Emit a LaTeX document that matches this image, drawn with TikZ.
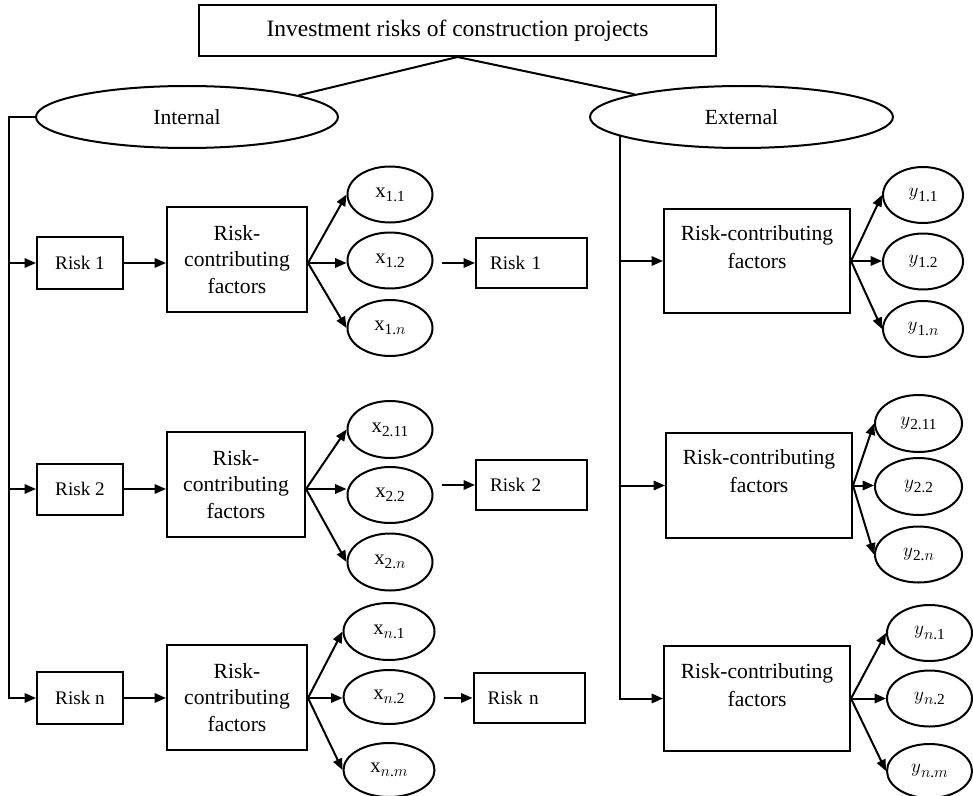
\documentclass[tikz,border=0pt]{standalone}
\usepackage{fontspec}
\setmainfont{Liberation Serif}
\usetikzlibrary{arrows.meta,shapes.geometric}
\newcommand{\sbx}[1]{\raisebox{-0.45ex}{\fontsize{11.5}{12}\selectfont #1}}
\begin{document}
\begin{tikzpicture}[x=0.75pt,y=-0.75pt,line width=1.5pt,
  box/.style args={#1/#2}{draw,rectangle,minimum width=#1*0.75pt,minimum height=#2*0.75pt,inner sep=0pt},
  oval/.style args={#1/#2}{draw,ellipse,minimum width=#1*0.75pt,minimum height=#2*0.75pt,inner sep=0pt},
  arr/.style={-{Triangle[length=8.5pt,width=7pt]}},
  titlefont/.style={font=\fontsize{17.6}{21}\selectfont},
  bigfont/.style={font=\fontsize{16.2}{20}\selectfont},
  rightfont/.style={font=\fontsize{16.2}{21}\selectfont},
  riskfont/.style={font=\fontsize{14.4}{17}\selectfont},
  ovfont/.style={font=\fontsize{15.5}{18}\selectfont},
  riskb/.style={box=111/50,riskfont,align=left,text width=83*0.75pt,inner xsep=14*0.75pt}
]
\useasboundingbox (0,0) rectangle (973,795);
\fill[white] (0,0) rectangle (973,795);

% top
\node[box=517/51,titlefont] (title) at (457.5,30.5) {Investment risks of construction projects};
\node[oval=302/62,bigfont] (internal) at (187,117) {Internal};
\node[oval=303/62,bigfont] (external) at (741.5,117) {External};
\draw (title.south) -- (internal.11);
\draw (title.south) -- (external.168);

% left column risks
\coordinate (Lx) at (9,0);
\node[box=86/52,riskfont] (risk1) at (80,263) {Risk 1};
\node[box=86/51,riskfont] (risk2) at (80,489) {Risk 2};
\node[box=86/52,riskfont] (riskn) at (80,698) {Risk n};
\draw[arr] (internal.west) -- (internal.west -| Lx) |- (riskn.west);
\draw[arr] (risk1.west -| Lx) -- (risk1.west);
\draw[arr] (risk2.west -| Lx) -- (risk2.west);

% left RCF boxes
\node[box=140/105,bigfont,align=center] (rcf1) at (237,259.5) {Risk-\\contributing\\factors};
\node[box=138/105,bigfont,align=center] (rcf2) at (236,484.5) {Risk-\\contributing\\factors};
\node[box=140/105,bigfont,align=center] (rcfn) at (237,697.5) {Risk-\\contributing\\factors};
\draw[arr] (risk1.east) -- (risk1.east -| rcf1.west);
\draw[arr] (risk2.east) -- (risk2.east -| rcf2.west);
\draw[arr] (riskn.east) -- (riskn.east -| rcfn.west);

% x ellipses
\node[oval=85/56,ovfont] (x11) at (390,194.5) {x\sbx{1.1}};
\node[oval=85/56,ovfont] (x12) at (390,260.5) {x\sbx{1.2}};
\node[oval=85/56,ovfont] (x1n) at (390,328) {x\sbx{1.$n$}};
\node[oval=85/57,ovfont] (x21) at (390,429.5) {x\sbx{2.11}};
\node[oval=85/56,ovfont] (x22) at (390,495) {x\sbx{2.2}};
\node[oval=85/57,ovfont] (x2n) at (390,562) {x\sbx{2.$n$}};
\node[oval=91/57,ovfont] (xn1) at (389,631.5) {x\sbx{$n$.1}};
\node[oval=91/54,ovfont] (xn2) at (389,697) {x\sbx{$n$.2}};
\node[oval=91/54,ovfont] (xnm) at (389,770) {x\sbx{$n$.$m$}};

\coordinate (o1) at (rcf1.east |- risk1.east);
\coordinate (o2) at (rcf2.east |- risk2.east);
\coordinate (o3) at (rcfn.east |- riskn.east);
\draw[arr] (o1) -- (x11.west);
\draw[arr] (o1) -- (o1 -| x12.west);
\draw[arr] (o1) -- (x1n.west);
\draw[arr] (o2) -- (x21.west);
\draw[arr] (o2) -- (o2 -| x22.west);
\draw[arr] (o2) -- (x2n.west);
\draw[arr] (o3) -- (xn1.west);
\draw[arr] (o3) -- (o3 -| xn2.west);
\draw[arr] (o3) -- (xnm.west);

% second risk boxes
\node[riskb] (r1b) at (531.5,263) {Risk 1};
\node[riskb] (r2b) at (531.5,485) {Risk 2};
\node[riskb] (rnb) at (529,698) {Risk n};
\draw[arr,shorten <=6pt] (r1b.west -| x12.east) -- (r1b.west);
\draw[arr,shorten <=6pt] (r2b.west -| x22.east) -- (r2b.west);
\draw[arr,shorten <=6pt] (rnb.west -| xn2.east) -- (rnb.west);

% right RCF boxes
\node[box=186/104,rightfont,align=center] (rcfR1) at (757,261) {Risk-contributing\\factors\\~};
\node[box=186/105,rightfont,align=center] (rcfR2) at (759,485.5) {Risk-contributing\\factors\\~};
\node[box=186/105,rightfont,align=center] (rcfRn) at (757,698.5) {Risk-contributing\\factors\\~};
\draw[arr] (external.189) |- (rcfRn.west);
\draw[arr] (rcfR1.west -| external.189) -- (rcfR1.west);
\draw[arr] (rcfR2.west -| external.189) -- (rcfR2.west);

% y ellipses
\node[oval=80/56,ovfont] (y11) at (923,195) {$y$\sbx{1.1}};
\node[oval=80/56,ovfont] (y12) at (923,261.5) {$y$\sbx{1.2}};
\node[oval=80/56,ovfont] (y1n) at (923,329) {$y$\sbx{1.$n$}};
\node[oval=87/57,ovfont] (y21) at (918.5,423.5) {$y$\sbx{2.11}};
\node[oval=87/57,ovfont] (y22) at (918.5,486.5) {$y$\sbx{2.2}};
\node[oval=87/56,ovfont] (y2n) at (918.5,554.5) {$y$\sbx{2.$n$}};
\node[oval=85/56,ovfont] (yn1) at (929.5,633) {$y$\sbx{$n$.1}};
\node[oval=85/56,ovfont] (yn2) at (929.5,698.5) {$y$\sbx{$n$.2}};
\node[oval=85/54,ovfont] (ynm) at (929.5,771) {$y$\sbx{$n$.$m$}};

\draw[arr] (rcfR1.east) -- (y11.west);
\draw[arr] (rcfR1.east) -- (rcfR1.east -| y12.west);
\draw[arr] (rcfR1.east) -- (y1n.west);
\draw[arr] (rcfR2.east) -- (y21.west);
\draw[arr] (rcfR2.east) -- (rcfR2.east -| y22.west);
\draw[arr] (rcfR2.east) -- (y2n.west);
\draw[arr] (rcfRn.east) -- (yn1.west);
\draw[arr] (rcfRn.east) -- (rcfRn.east -| yn2.west);
\draw[arr] (rcfRn.east) -- (ynm.west);
\end{tikzpicture}
\end{document}
